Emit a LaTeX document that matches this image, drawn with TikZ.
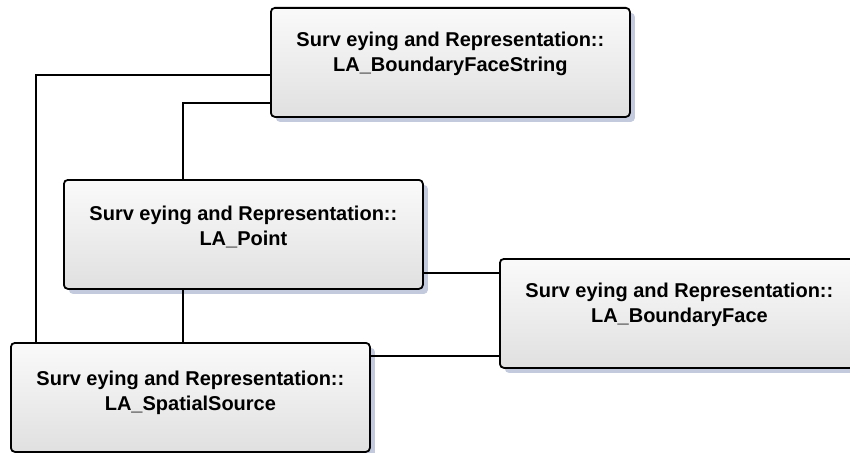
\documentclass[tikz,border=0pt]{standalone}
\usepackage{fontspec}
\setmainfont{Liberation Sans}
\usetikzlibrary{shadows}

\definecolor{shadowgray}{RGB}{196,202,222}
\definecolor{boxtop}{RGB}{250,250,250}
\definecolor{boxbottom}{RGB}{224,224,224}

% two-line class label, raised by #1 inside its box
\newcommand\classlabel[3]{\raisebox{#1}[\height][\depth]{\begin{tabular}{@{}c@{}}#2\\#3\end{tabular}}}

\tikzset{
  classbox/.style={
    rectangle, rounded corners=4pt, draw=black, line width=1.8pt,
    top color=boxtop, bottom color=boxbottom,
    minimum width=359pt, minimum height=109pt, inner sep=0pt,
    anchor=north west, align=center,
    font=\bfseries\fontsize{20}{25}\selectfont,
    drop shadow={shadow xshift=5pt, shadow yshift=-5pt, fill=shadowgray, opacity=1}
  },
  link/.style={draw=black, line width=1.4pt}
}

\begin{document}
\begin{tikzpicture}[x=1pt, y=-1pt]
  \useasboundingbox (0,0) rectangle (850,452);
  \clip (0,0) rectangle (850,452);

  \node[classbox] (bfs) at (270,7)
    {\classlabel{8pt}{Surv eying and Representation::}{LA\_BoundaryFaceString}};
  \node[classbox] (pt) at (63,179)
    {\classlabel{6pt}{Surv eying and Representation::}{LA\_Point}};
  \node[classbox] (bf) at (499,258)
    {\classlabel{8pt}{Surv eying and Representation::}{LA\_BoundaryFace}};
  \node[classbox] (ss) at (10,342)
    {\classlabel{4pt}{Surv eying and Representation::}{LA\_SpatialSource}};

  % BoundaryFaceString -- SpatialSource (outer left route)
  \draw[link] ([yshift=-12.5pt]bfs.west) -| ([xshift=26pt]ss.north west);
  % BoundaryFaceString -- Point
  \draw[link] ([yshift=-40.5pt]bfs.west) -| ([xshift=-60.5pt]pt.north);
  % Point -- SpatialSource
  \draw[link] ([xshift=-60.5pt]pt.south) -- ([xshift=-60.5pt]pt.south |- ss.north);
  % Point -- BoundaryFace
  \draw[link] ([yshift=-38.5pt]pt.east) -- ([yshift=-38.5pt]pt.east -| bf.west);
  % SpatialSource -- BoundaryFace
  \draw[link] ([yshift=-14pt]ss.north east) -- ([yshift=-14pt]ss.north east -| bf.west);
\end{tikzpicture}
\end{document}
